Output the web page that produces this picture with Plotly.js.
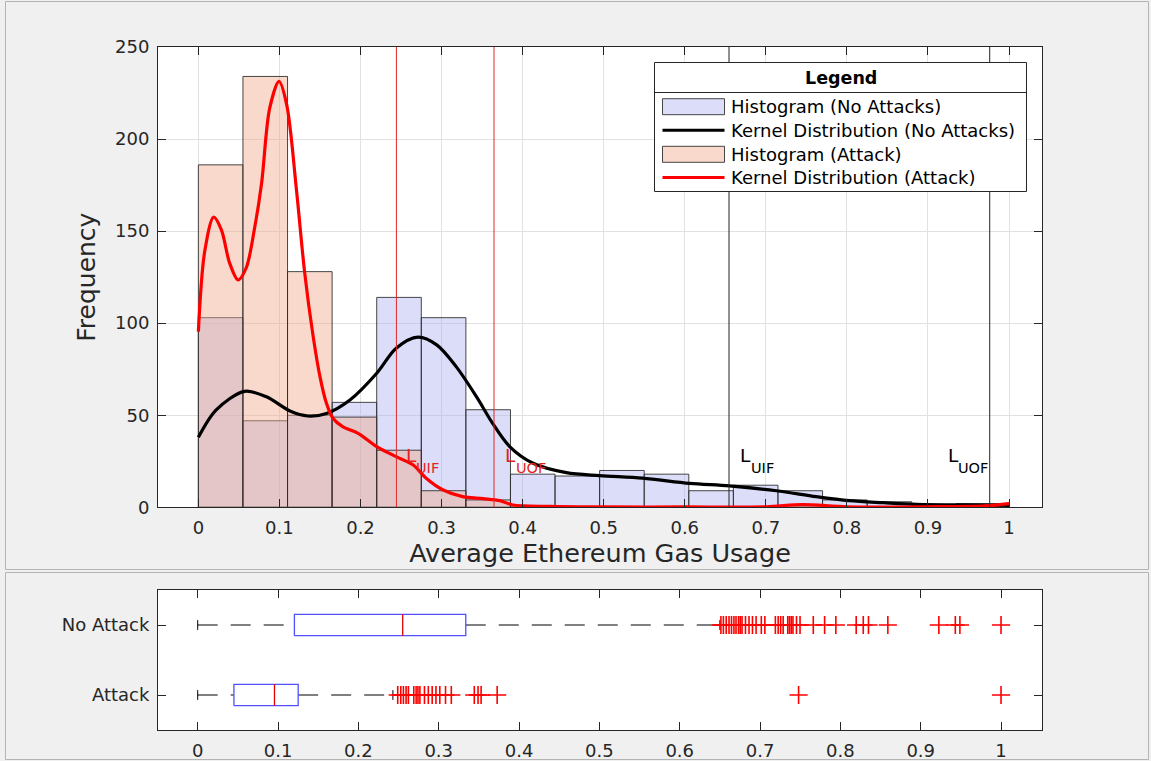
<!DOCTYPE html>
<html>
<head>
<meta charset="utf-8">
<script src="https://cdn.plot.ly/plotly-3.0.1.min.js"></script>
<style>
html,body{margin:0;padding:0;background:#f0f0f0;}
#chart{width:1151px;height:761px;}
</style>
</head>
<body>
<div id="chart"></div>
<script>
// ---------------- DATA ----------------
const binLeftEdges = [0, 0.055, 0.11, 0.165, 0.22, 0.275, 0.33, 0.385, 0.44, 0.495,
                      0.55, 0.605, 0.66, 0.715, 0.77, 0.825, 0.88, 0.935];
const binWidth = 0.055;
const countsNoAttack = [103, 47, 50, 57, 114, 103, 53, 18, 17, 20, 18, 9, 12, 9, 4, 3, 1, 2];
const countsAttack   = [186, 234, 128, 49, 31, 9, 4, 0, 0, 0, 0, 0, 0, 1, 0, 0, 0, 0];

const kdeNoAttackX = [0, 0.022, 0.057, 0.084, 0.113, 0.135, 0.158, 0.187, 0.22, 0.244, 0.271, 0.294,
                      0.318, 0.343, 0.363, 0.384, 0.413, 0.454, 0.495, 0.548, 0.606, 0.655, 0.713,
                      0.762, 0.803, 0.845, 0.886, 0.968, 1.0];
const kdeNoAttackY = [38, 52.9, 63, 60, 52.3, 49.6, 51, 58.3, 72.8, 86.4, 92.4, 88.2,
                      76.4, 60.1, 45.6, 33, 23.9, 18.8, 17.2, 15.8, 13, 11.6, 9,
                      5.8, 3.6, 2.5, 1.6, 1.25, 1.0];

const kdeAttackX = [0, 0.0078, 0.0189, 0.0284, 0.0386, 0.049, 0.059, 0.069, 0.078, 0.088, 0.0995,
                    0.109, 0.121, 0.131, 0.141, 0.150, 0.158, 0.166, 0.178, 0.197, 0.22, 0.244,
                    0.265, 0.281, 0.302, 0.326, 0.351, 0.372, 0.388, 0.433, 0.5, 0.6, 0.7, 0.745,
                    0.8, 0.9, 0.97, 1.0];
const kdeAttackY = [95.4, 138.9, 157.6, 150.7, 132.6, 123.5, 130, 150.7, 176, 216.8, 231.3,
                    218.6, 172.4, 128, 94.6, 71, 56.5, 48.4, 43.8, 40.2, 33, 27.5,
                    23, 15.8, 9.4, 5.8, 4.7, 3.6, 1.25, 0.5, 0.2, 0.2, 0.3, 1.5,
                    0.3, 0.3, 0.8, 2];

// fences (upper inner / outer fence) for each group
const fenceAttack   = [0.2443, 0.3647];
const fenceNoAttack = [0.6546, 0.9762];
const fenceMain     = 'L';
const fenceSubs     = ['UIF', 'UOF'];

// box plot statistics
const boxCats   = ['No Attack', 'Attack'];
const boxLow    = [0, 0];
const boxQ1     = [0.1204, 0.0451];
const boxMedian = [0.2552, 0.0956];
const boxQ3     = [0.3337, 0.1251];
const boxHigh   = [0.650, 0.243];
const outliersNoAttack = [0.6513, 0.6544, 0.6579, 0.6614, 0.6645, 0.6675, 0.6701, 0.6732, 0.6754,
                          0.6776, 0.6819, 0.6863, 0.6906, 0.6951, 0.7016, 0.706, 0.7191, 0.7226,
                          0.7257, 0.7288, 0.7345, 0.7366, 0.7388, 0.741, 0.7454, 0.7498, 0.7663,
                          0.7804, 0.7944, 0.8197, 0.8285, 0.835, 0.8591, 0.9226, 0.9431, 0.9488, 1.0];
const outliersAttack = [0.249, 0.2528, 0.2561, 0.2594, 0.2623, 0.269, 0.2719, 0.2742, 0.2766,
                        0.2823, 0.2871, 0.2919, 0.2966, 0.3014, 0.3085, 0.3157, 0.3443, 0.349,
                        0.3528, 0.3728, 0.748, 1.0];

const legendTitle = 'Legend';
const legendNames = ['Histogram (No Attacks)', 'Kernel Distribution (No Attacks)',
                     'Histogram (Attack)', 'Kernel Distribution (Attack)'];

// ---------------- STYLE / LAYOUT ----------------
const FONT = 'DejaVu Sans, Liberation Sans, Arial, sans-serif';
const TXT = '#262626';
const W = 1151, H = 761;
const mL = 158, mR = 109, mT = 47, mB = 31;
const plotW = W - mL - mR, plotH = H - mT - mB;
const px = x => (x - mL) / plotW;
const py = y => (H - mB - y) / plotH;

const blueFill = 'rgba(170,175,240,0.42)';
const peachFill = 'rgba(238,168,140,0.44)';
const edge = 'rgba(40,40,40,0.85)';

const traces = [];
traces.push({
  type: 'bar', x: binLeftEdges, y: countsNoAttack, width: binWidth, offset: 0,
  marker: {color: blueFill, line: {color: edge, width: 1}},
  name: legendNames[0], xaxis: 'x', yaxis: 'y', showlegend: false, hoverinfo: 'x+y'
});
traces.push({
  type: 'bar', x: binLeftEdges, y: countsAttack, width: binWidth, offset: 0,
  marker: {color: peachFill, line: {color: edge, width: 1}},
  name: legendNames[2], xaxis: 'x', yaxis: 'y', showlegend: false, hoverinfo: 'x+y'
});
traces.push({
  type: 'scatter', mode: 'lines', x: kdeNoAttackX, y: kdeNoAttackY,
  line: {color: '#000000', width: 3.2, shape: 'spline', smoothing: 0.9},
  name: legendNames[1], xaxis: 'x', yaxis: 'y', showlegend: false
});
traces.push({
  type: 'scatter', mode: 'lines', x: kdeAttackX, y: kdeAttackY,
  line: {color: '#ff0000', width: 3.2, shape: 'spline', smoothing: 0.9},
  name: legendNames[3], xaxis: 'x', yaxis: 'y', showlegend: false
});

// box plots (horizontal) in the lower panel
const boxHalf = 0.152, capHalf = 0.07;
const outlierSets = [outliersNoAttack, outliersAttack];
boxCats.forEach((cat, i) => {
  const p = boxCats.length - i; // No Attack on top
  traces.push({type: 'scatter', mode: 'lines', xaxis: 'x2', yaxis: 'y2', showlegend: false, hoverinfo: 'skip',
    x: [boxLow[i], boxQ1[i], null, boxQ3[i], boxHigh[i]], y: [p, p, null, p, p],
    line: {color: '#000', width: 1, dash: '20px,13px'}});
  traces.push({type: 'scatter', mode: 'lines', xaxis: 'x2', yaxis: 'y2', showlegend: false, hoverinfo: 'skip',
    x: [boxLow[i], boxLow[i], null, boxHigh[i], boxHigh[i]],
    y: [p - capHalf, p + capHalf, null, p - capHalf, p + capHalf],
    line: {color: '#000', width: 1}});
  traces.push({type: 'scatter', mode: 'lines', xaxis: 'x2', yaxis: 'y2', showlegend: false, name: cat,
    x: [boxQ1[i], boxQ3[i], boxQ3[i], boxQ1[i], boxQ1[i]],
    y: [p - boxHalf, p - boxHalf, p + boxHalf, p + boxHalf, p - boxHalf],
    line: {color: 'rgb(80,80,255)', width: 1.3}});
  traces.push({type: 'scatter', mode: 'lines', xaxis: 'x2', yaxis: 'y2', showlegend: false, hoverinfo: 'skip',
    x: [boxMedian[i], boxMedian[i]], y: [p - boxHalf, p + boxHalf],
    line: {color: 'rgb(230,0,0)', width: 1.3}});
  traces.push({type: 'scatter', mode: 'markers', xaxis: 'x2', yaxis: 'y2', showlegend: false,
    x: outlierSets[i], y: outlierSets[i].map(() => p),
    marker: {symbol: 'cross-thin', size: 13, line: {color: '#ff0000', width: 1.6}}});
});

// ---------- shapes ----------
const shapes = [];
shapes.push({type: 'rect', xref: 'paper', yref: 'paper', x0: px(5.5), x1: px(1148.5), y0: py(1.5), y1: py(569.5),
  line: {color: '#b4b4b4', width: 1}, fillcolor: 'rgba(0,0,0,0)', layer: 'below'});
shapes.push({type: 'rect', xref: 'paper', yref: 'paper', x0: px(5.5), x1: px(1148.5), y0: py(572.5), y1: py(759.5),
  line: {color: '#b4b4b4', width: 1}, fillcolor: 'rgba(0,0,0,0)', layer: 'below'});
fenceAttack.forEach(v => shapes.push({type: 'line', xref: 'x', yref: 'y domain', x0: v, x1: v, y0: 0, y1: 1,
  line: {color: 'rgb(225,40,40)', width: 1}}));
fenceNoAttack.forEach(v => shapes.push({type: 'line', xref: 'x', yref: 'y domain', x0: v, x1: v, y0: 0, y1: 1,
  line: {color: '#222', width: 1}}));

// manual legend
const lgL = 654.5, lgR = 1026.5, lgT = 62.5, lgB = 191.5;
shapes.push({type: 'rect', xref: 'paper', yref: 'paper', x0: px(lgL), x1: px(lgR), y0: py(lgB), y1: py(lgT),
  fillcolor: '#ffffff', line: {color: '#262626', width: 1}});
shapes.push({type: 'line', xref: 'paper', yref: 'paper', x0: px(lgL), x1: px(lgR), y0: py(92.5), y1: py(92.5),
  line: {color: '#262626', width: 1}});
const entryY = [106.7, 130.3, 154.3, 177.5];
const symL = 662.5, symR = 724.5;
shapes.push({type: 'rect', xref: 'paper', yref: 'paper', x0: px(symL), x1: px(symR), y0: py(entryY[0] + 8), y1: py(entryY[0] - 8),
  fillcolor: blueFill, line: {color: edge, width: 1}});
shapes.push({type: 'line', xref: 'paper', yref: 'paper', x0: px(symL), x1: px(symR), y0: py(entryY[1]), y1: py(entryY[1]),
  line: {color: '#000', width: 3}});
shapes.push({type: 'rect', xref: 'paper', yref: 'paper', x0: px(symL), x1: px(symR), y0: py(entryY[2] + 8), y1: py(entryY[2] - 8),
  fillcolor: peachFill, line: {color: edge, width: 1}});
shapes.push({type: 'line', xref: 'paper', yref: 'paper', x0: px(symL), x1: px(symR), y0: py(entryY[3]), y1: py(entryY[3]),
  line: {color: '#ff0000', width: 3}});

// ---------- annotations ----------
const annotations = [];
annotations.push({xref: 'paper', yref: 'paper', x: px((lgL + lgR) / 2), y: py(77.5), text: '<b>' + legendTitle + '</b>',
  showarrow: false, xanchor: 'center', yanchor: 'middle', font: {family: FONT, size: 17.5, color: '#000'}});
legendNames.forEach((n, k) => annotations.push({xref: 'paper', yref: 'paper', x: px(729), y: py(entryY[k]), text: n,
  showarrow: false, xanchor: 'left', yanchor: 'middle', font: {family: FONT, size: 18, color: '#000'}}));

// fence labels: "L" with a subscript drawn as a separate smaller text
function fenceLabel(xL, k, color) {
  annotations.push({xref: 'x', yref: 'y', x: xL, y: 28, text: fenceMain, showarrow: false,
    xanchor: 'left', yanchor: 'middle', font: {family: FONT, size: 18.5, color: color}});
  annotations.push({xref: 'x', yref: 'y', x: xL + 0.0127, y: 21.5, text: fenceSubs[k], showarrow: false,
    xanchor: 'left', yanchor: 'middle', font: {family: FONT, size: 14.5, color: color}});
}
fenceLabel(fenceAttack[0] + 0.0095, 0, 'rgb(230,30,30)');
fenceLabel(fenceAttack[1] + 0.0115, 1, 'rgb(230,30,30)');
fenceLabel(fenceNoAttack[0] + 0.0115, 0, '#000');
fenceLabel(fenceNoAttack[1] - 0.054, 1, '#000');

const tickFont = {family: FONT, size: 18, color: TXT};
const axisCommon = {
  showline: true, linecolor: '#262626', linewidth: 1, mirror: 'ticks',
  ticks: 'inside', ticklen: 8, tickcolor: '#262626', tickwidth: 1,
  zeroline: false, tickfont: tickFont, ticklabelstandoff: 4
};

const layout = {
  width: W, height: H,
  margin: {l: mL, r: mR, t: mT, b: mB, pad: 0},
  paper_bgcolor: '#f0f0f0', plot_bgcolor: '#ffffff',
  showlegend: false, barmode: 'overlay', bargap: 0,
  font: {family: FONT, color: TXT},
  xaxis: Object.assign({}, axisCommon, {
    domain: [0, 1], anchor: 'y', range: [-0.0498, 1.0407], tick0: 0, dtick: 0.1,
    showgrid: true, gridcolor: '#e1e1e1', gridwidth: 1,
    title: {text: 'Average Ethereum Gas Usage', font: {family: FONT, size: 25.5, color: TXT}, standoff: 6},
    automargin: false
  }),
  yaxis: Object.assign({}, axisCommon, {
    domain: [py(507.3), 1], anchor: 'x', range: [0, 250], tick0: 0, dtick: 50,
    showgrid: true, gridcolor: '#e1e1e1', gridwidth: 1,
    title: {text: 'Frequency', font: {family: FONT, size: 25, color: TXT}, standoff: 12},
    automargin: false
  }),
  xaxis2: Object.assign({}, axisCommon, {
    domain: [0, 1], anchor: 'y2', range: [-0.0494, 1.051], tick0: 0, dtick: 0.1,
    showgrid: false, automargin: false
  }),
  yaxis2: Object.assign({}, axisCommon, {
    domain: [0, py(590)], anchor: 'x2', range: [0.5, 2.5],
    tickvals: boxCats.map((c, i) => boxCats.length - i), ticktext: boxCats,
    showgrid: false, automargin: false
  }),
  shapes: shapes,
  annotations: annotations
};

Plotly.newPlot('chart', traces, layout, {displayModeBar: false, staticPlot: true});
</script>
</body>
</html>
